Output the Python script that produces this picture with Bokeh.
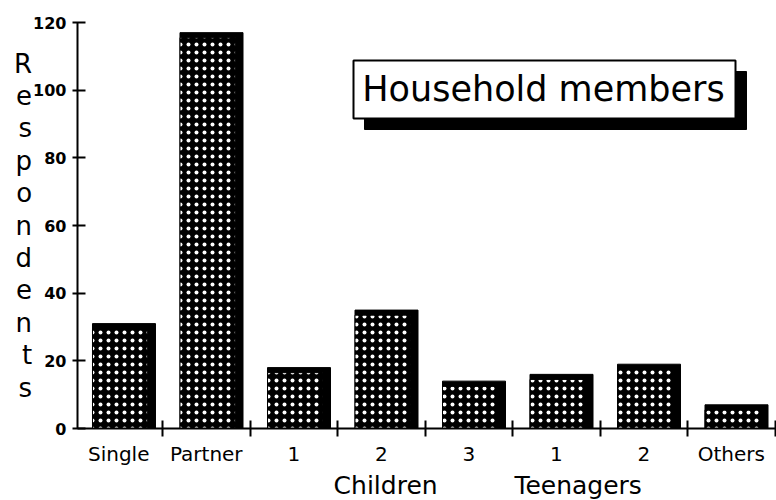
import numpy as np
from bokeh.plotting import figure
from bokeh.models import FixedTicker, LinearAxis, Range1d
from bokeh.core.properties import value
from bokeh.embed import file_html
from bokeh.resources import INLINE

# ---- data ----
categories = ["Single", "Partner", "1", "2", "3", "1", "2", "Others"]
respondents = [31, 117, 18, 35, 14, 16, 19, 7]
group_labels = ["Children", "Teenagers"]
group_centers = [3.05, 5.25]          # label positions along the category axis
y_ticks = [0, 20, 40, 60, 80, 100, 120]
title_text = "Household members"
y_title = "Respondents"

FONT = "DejaVu Sans"

# ---- layout helpers (page pixels -> data coords) ----
FRAME_LEFT, FRAME_TOP = 77, 22
FRAME_W, FRAME_H = 699, 406
X0, X1 = -0.4714, 7.517
Y0, Y1 = 0, 120


def px_x(px):
    return X0 + (px - FRAME_LEFT) / FRAME_W * (X1 - X0)


def px_y(py):
    return Y1 - (py - FRAME_TOP) / FRAME_H * (Y1 - Y0)


p = figure(
    frame_width=FRAME_W, frame_height=FRAME_H,
    min_border_left=FRAME_LEFT, min_border_right=0,
    min_border_top=FRAME_TOP, min_border_bottom=500 - FRAME_H - FRAME_TOP,
    x_range=Range1d(X0, X1), y_range=Range1d(Y0, Y1),
    output_backend="svg", toolbar_location=None,
    background_fill_color="white", border_fill_color="white",
)
p.outline_line_color = None
p.grid.visible = False

# ---- bars ----
xs = np.arange(len(categories))
vals = np.array(respondents, dtype=float)
left_off, right_off = -0.30, 0.42
shadow_w = 0.09
top_band = 1.5
# black body (gives the thick top/right shadow edge)
p.quad(left=xs + left_off, right=xs + right_off, bottom=0, top=vals,
       fill_color="black", line_color="black", line_width=1)
# dotted face
p.quad(left=xs + left_off, right=xs + right_off - shadow_w, bottom=0, top=vals - top_band,
       fill_color="black", line_color="black", line_width=1,
       hatch_pattern="dot", hatch_color="white", hatch_scale=8, hatch_weight=3.8)

# ---- title box with drop shadow ----
bx0, bx1, by0, by1 = 353, 735, 60, 118
sh = 11
p.quad(left=[px_x(bx0 + sh)], right=[px_x(bx1 + sh)], top=[px_y(by0 + sh)], bottom=[px_y(by1 + sh)],
       fill_color="black", line_color="black")
p.quad(left=[px_x(bx0)], right=[px_x(bx1)], top=[px_y(by0)], bottom=[px_y(by1)],
       fill_color="white", line_color="black", line_width=2)
p.text(x=[px_x((bx0 + bx1) / 2 - 1)], y=[px_y(88)], text=[title_text],
       text_font=value(FONT), text_font_size=value("35px"), text_color="black",
       text_align="center", text_baseline="middle")

# ---- y axis ----
ya = p.yaxis[0]
ya.ticker = FixedTicker(ticks=y_ticks)
ya.axis_line_width = 2
ya.axis_line_color = "black"
ya.major_tick_line_width = 2
ya.major_tick_line_color = "black"
ya.major_tick_in = 8
ya.major_tick_out = 5
ya.minor_tick_line_color = None
ya.major_label_standoff = 6
ya.major_label_text_font = FONT
ya.major_label_text_font_size = "16px"
ya.major_label_text_font_style = "bold"
ya.major_label_text_color = "black"
ya.axis_label = "\n".join(y_title)
ya.axis_label_orientation = "horizontal"
ya.axis_label_standoff = -2
ya.axis_label_text_font = FONT
ya.axis_label_text_font_size = "26px"
ya.axis_label_text_font_style = "normal"
ya.axis_label_text_color = "black"
ya.axis_label_text_line_height = 1.08

# ---- x axis ----
xa = p.xaxis[0]
xa.ticker = FixedTicker(ticks=list(xs), minor_ticks=[i + 0.5 for i in range(len(categories))])
xa.major_label_overrides = {int(i): c for i, c in zip(xs, categories)}
xa.axis_line_width = 2
xa.axis_line_color = "black"
xa.major_tick_line_color = None
xa.major_tick_in = 0
xa.major_tick_out = 8
xa.minor_tick_line_color = "black"
xa.minor_tick_line_width = 2
xa.minor_tick_in = 8
xa.minor_tick_out = 8
xa.major_label_standoff = 5
xa.major_label_text_font = FONT
xa.major_label_text_font_size = "20px"
xa.major_label_text_color = "black"

# ---- group labels as a second category axis ----
ga = LinearAxis(ticker=FixedTicker(ticks=group_centers),
                major_label_overrides={g: n for g, n in zip(group_centers, group_labels)})
ga.axis_line_color = None
ga.major_tick_line_color = None
ga.minor_tick_line_color = None
ga.major_tick_in = 0
ga.major_tick_out = 0
ga.major_label_standoff = 2
ga.major_label_text_font = FONT
ga.major_label_text_font_size = "25px"
ga.major_label_text_color = "black"
p.add_layout(ga, "below")

open("out.html", "w").write(file_html(p, INLINE))
